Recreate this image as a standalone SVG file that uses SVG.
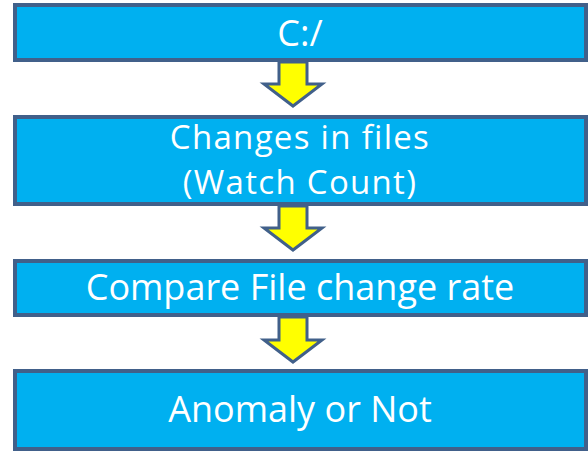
<svg xmlns="http://www.w3.org/2000/svg" width="588" height="452" viewBox="0 0 588 452">
  <style>
    .box { fill: #00B0F0; stroke: #41608A; stroke-width: 4; }
    .arrow { fill: #FFFF00; stroke: #41608A; stroke-width: 3; stroke-linejoin: miter; }
    .label { fill: #FFFFFF; font-family: "Open Sans", "Liberation Sans", sans-serif; font-size: 36px; text-anchor: middle; }
    .label.two { font-size: 33px; letter-spacing: 1.3px; }
  </style>
  <rect width="588" height="452" fill="#FFFFFF"/>

  <g id="connectors">
    <path class="arrow" d="M279,62 L307,62 L307,84 L322,84 L293,106 L264,84 L279,84 Z"/>
    <path class="arrow" d="M279,206 L307,206 L307,228 L322,228 L293,250 L264,228 L279,228 Z"/>
    <path class="arrow" d="M279,317 L307,317 L307,340 L322,340 L293,362 L264,340 L279,340 Z"/>
  </g>

  <g id="node-root">
    <rect class="box" x="15" y="5" width="571" height="55"/>
    <text class="label" x="300" y="46">C:/</text>
  </g>

  <g id="node-changes">
    <rect class="box" x="15" y="117" width="571" height="87"/>
    <text class="label two" x="300" y="149">Changes in files</text>
    <text class="label two" x="300" y="194">(Watch Count)</text>
  </g>

  <g id="node-compare">
    <rect class="box" x="15" y="261" width="571" height="54"/>
    <text class="label" x="300" y="300">Compare File change rate</text>
  </g>

  <g id="node-result">
    <rect class="box" x="15" y="371" width="571" height="78"/>
    <text class="label" x="300" y="422">Anomaly or Not</text>
  </g>
</svg>
